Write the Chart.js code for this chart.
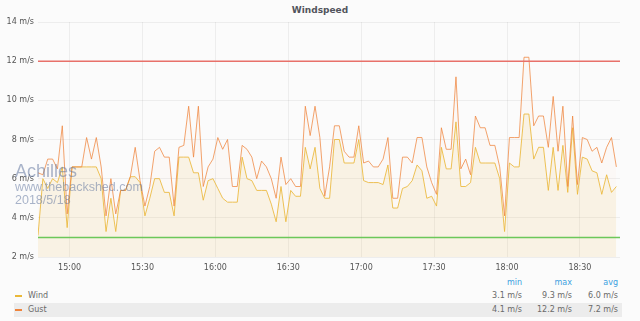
<!DOCTYPE html>
<html>
<head>
<meta charset="utf-8">
<script src="https://cdn.jsdelivr.net/npm/chart.js@4"></script>
<style>
  html,body{margin:0;padding:0;}
  body{background:#fbfbfb;width:640px;height:321px;overflow:hidden;position:relative;font-family:"DejaVu Sans",sans-serif;}
  #title{position:absolute;top:3px;left:0;width:640px;height:14px;line-height:14px;text-align:center;font-size:9px;font-weight:bold;color:#52545c;}
  #wrap{position:absolute;left:0;top:0;width:640px;height:275px;}
  .wm{position:absolute;left:15px;font-family:"Liberation Sans",Arial,sans-serif;color:rgba(100,120,160,0.55);white-space:nowrap;}
  .lg{position:absolute;font-size:8px;color:#6a6a6a;white-space:nowrap;}
  .hd{color:#3ba0e0;}
  .band{position:absolute;left:14px;width:608px;background:#ececec;}
  .sw{position:absolute;left:15px;width:7px;height:2px;}
</style>
</head>
<body>
<div id="title">Windspeed</div>
<div id="wrap"><canvas id="c" width="640" height="275"></canvas></div>
<div class="wm" style="top:162px;font-size:18px;line-height:18px;">Achilles</div>
<div class="wm" style="top:181px;font-size:12.5px;line-height:12.5px;">www.thebackshed.com</div>
<div class="wm" style="top:194px;font-size:12.5px;line-height:12.5px;">2018/5/18</div>
<div id="legend"></div>
<script>
// ---- data ----
const seriesNames = ['Wind', 'Gust'];
const seriesColors = ['#EAB839', '#EF843C'];
const unit = 'm/s';
const startMinute = 887;   // 14:47
const stepMinutes = 2;
const endMinute = 1126.5;  // ~18:46
const xTickMinutes = [900, 930, 960, 990, 1020, 1050, 1080, 1110];
const yTickValues = [2, 4, 6, 8, 10, 12, 14];
const thresholdValues = [12, 3];
const thresholdColors = ['#E8716A', '#6CC85A'];

const windValues = [
  3.1,6.0,5.5,6.0,5.8,6.6,3.5,6.6,6.6,6.6,
  6.6,6.6,6.6,6.0,3.3,5.0,3.3,5.4,5.4,6.1,
  6.1,5.8,4.1,5.0,6.0,6.0,5.3,5.3,4.1,7.1,
  7.1,7.1,6.3,6.3,4.9,5.9,6.0,5.5,5.0,4.8,
  4.8,4.8,7.1,6.0,5.9,5.4,5.4,5.4,4.7,3.8,
  5.6,3.8,5.4,5.1,5.1,7.6,6.5,7.6,5.5,5.0,
  5.0,8.0,8.0,6.8,6.8,6.8,8.0,5.9,5.8,5.8,
  5.8,5.7,6.7,4.5,4.5,5.5,5.6,5.9,6.7,6.4,
  5.0,5.1,4.6,7.6,6.5,6.5,8.9,5.6,5.6,5.8,
  7.6,6.8,6.8,6.8,6.8,6.0,3.3,6.8,6.6,6.6,
  9.3,9.3,7.0,7.6,7.6,5.4,7.6,5.4,7.7,5.3,
  8.6,5.2,7.1,7.0,6.4,6.3,5.2,6.2,5.3,5.6
];
const gustValues = [
  6.3,6.2,7.0,7.0,6.5,8.7,4.2,6.6,6.6,6.6,
  8.1,7.0,8.1,6.6,4.1,6.0,4.2,5.4,5.4,6.1,
  7.6,5.9,4.6,5.6,7.4,7.6,7.1,7.1,4.6,7.6,
  7.7,9.7,7.1,9.7,5.6,6.6,7.0,8.1,7.5,8.0,
  5.6,5.6,7.7,7.5,7.1,6.0,6.9,6.6,6.0,5.0,
  7.1,5.7,6.0,5.6,5.6,9.7,8.2,9.7,8.1,5.1,
  6.6,8.7,8.7,7.4,7.1,7.1,8.7,6.8,6.9,6.6,
  6.6,7.0,8.1,5.0,5.0,7.1,7.1,6.8,8.1,8.1,
  6.6,5.8,5.2,8.6,7.5,7.5,11.2,6.5,7.0,6.2,
  9.2,8.6,8.6,7.7,7.7,6.6,4.1,8.1,8.1,8.1,
  12.2,12.2,8.7,9.2,9.2,7.6,10.2,7.4,9.7,5.6,
  9.2,5.7,8.1,8.0,7.4,7.6,6.8,7.6,8.1,6.6
];

// ---- build ----
const times = windValues.map((_, i) => startMinute + i * stepMinutes);
const toPoints = vals => vals.map((v, i) => ({x: times[i], y: v}));
const pad2 = n => String(n).padStart(2, '0');
const fmtTime = m => pad2(Math.floor(m / 60)) + ':' + pad2(Math.round(m % 60));

const seriesValues = [windValues, gustValues];
const lineColors = ['rgba(234,184,57,0.85)', 'rgba(239,132,60,0.75)'];
const fills = ['rgba(234,184,57,0.09)', 'rgba(239,132,60,0.025)'];

const datasets = seriesValues.map((vals, k) => ({
  label: seriesNames[k],
  data: toPoints(vals),
  borderColor: lineColors[k],
  backgroundColor: fills[k],
  fill: 'origin',
  borderWidth: 1,
  pointRadius: 0,
  tension: 0,
  order: 2 - k
}));
thresholdValues.forEach((t, k) => datasets.push({
  label: 'threshold' + k,
  data: [{x: startMinute, y: t}, {x: endMinute, y: t}],
  borderColor: thresholdColors[k],
  borderWidth: 1.5,
  pointRadius: 0,
  fill: false,
  order: -1
}));

const gridOpts = {color: 'rgba(0,0,0,0.055)', drawTicks: false};
const tickFont = {family: 'DejaVu Sans', size: 8};

new Chart(document.getElementById('c'), {
  type: 'line',
  data: {datasets},
  options: {
    responsive: false,
    animation: false,
    devicePixelRatio: 1,
    layout: {padding: {top: 22, right: 20, left: 0, bottom: 0}},
    plugins: {legend: {display: false}, tooltip: {enabled: false}, title: {display: false}},
    scales: {
      x: {
        type: 'linear', min: startMinute, max: endMinute,
        afterBuildTicks: s => { s.ticks = xTickMinutes.map(v => ({value: v})); },
        afterFit: s => { s.height = 18; },
        ticks: {callback: v => fmtTime(v), font: tickFont, color: '#555', padding: 6, maxRotation: 0, autoSkip: false},
        grid: gridOpts, border: {display: false}
      },
      y: {
        min: 2, max: 14,
        afterBuildTicks: s => { s.ticks = yTickValues.map(v => ({value: v})); },
        afterFit: s => { s.width = 38; },
        ticks: {callback: v => v + ' ' + unit, font: tickFont, color: '#555', padding: 4},
        grid: gridOpts, border: {display: false}
      }
    }
  }
});

// ---- legend table ----
const legend = document.getElementById('legend');
const colRights = [118, 68, 22]; // distance from right edge (640)
const rowTops = [289, 303];
function addText(txt, top, right, cls) {
  const d = document.createElement('div');
  d.className = 'lg ' + (cls || '');
  d.style.top = top + 'px';
  d.style.right = right + 'px';
  d.style.height = '14px';
  d.style.lineHeight = '14px';
  d.textContent = txt;
  legend.appendChild(d);
}
['min', 'max', 'avg'].forEach((h, j) => addText(h, 276, colRights[j], 'hd'));
seriesValues.forEach((vals, k) => {
  const top = rowTops[k];
  if (k === 1) {
    const b = document.createElement('div');
    b.className = 'band';
    b.style.top = top + 'px';
    b.style.height = '14px';
    legend.appendChild(b);
  }
  const sw = document.createElement('div');
  sw.className = 'sw';
  sw.style.top = (top + 6) + 'px';
  sw.style.background = seriesColors[k];
  legend.appendChild(sw);
  const n = document.createElement('div');
  n.className = 'lg';
  n.style.left = '28px';
  n.style.top = top + 'px';
  n.style.height = '14px';
  n.style.lineHeight = '14px';
  n.textContent = seriesNames[k];
  legend.appendChild(n);
  const mn = Math.min(...vals), mx = Math.max(...vals);
  const avg = vals.reduce((a, b) => a + b, 0) / vals.length;
  [mn, mx, avg].forEach((v, j) => addText(v.toFixed(1) + ' ' + unit, top, colRights[j]));
});
</script>
</body>
</html>
